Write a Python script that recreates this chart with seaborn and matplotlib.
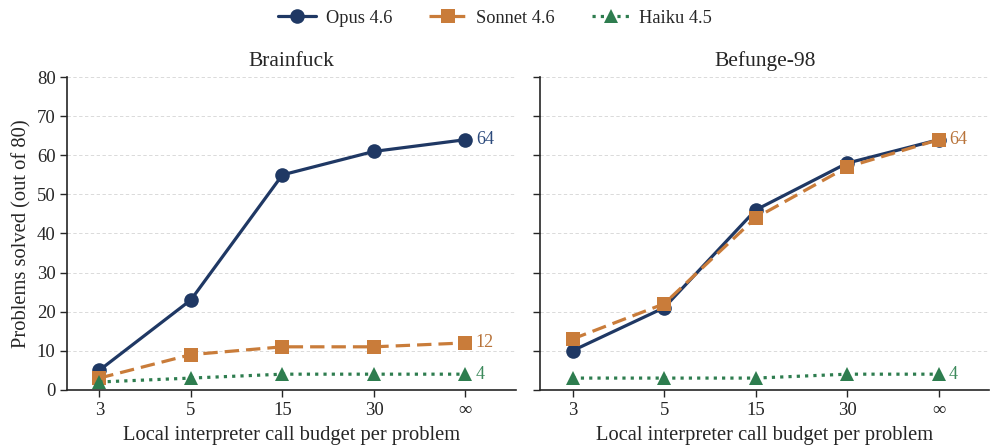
import pandas as pd
import matplotlib.pyplot as plt
import seaborn as sns

# Data
budgets = ['3', '5', '15', '30', '∞']
models = ['Opus 4.6', 'Sonnet 4.6', 'Haiku 4.5']
panels = ['Brainfuck', 'Befunge-98']

bf_opus = [5, 23, 55, 61, 64]
bf_sonnet = [3, 9, 11, 11, 12]
bf_haiku = [2, 3, 4, 4, 4]

bg_opus = [10, 21, 46, 58, 64]
bg_sonnet = [13, 22, 44, 57, 64]
bg_haiku = [3, 3, 3, 4, 4]

colors = {'Opus 4.6': '#1f3864', 'Sonnet 4.6': '#c97c3a', 'Haiku 4.5': '#2e7d4f'}
label_colors = {'Opus 4.6': '#2c4a7c', 'Sonnet 4.6': '#b8733a', 'Haiku 4.5': '#3d8a5c'}
markers = {'Opus 4.6': 'o', 'Sonnet 4.6': 's', 'Haiku 4.5': '^'}
dashes = {'Opus 4.6': '', 'Sonnet 4.6': (4.5, 2.2), 'Haiku 4.5': (1, 1.6)}

rows = []
for panel, vals in zip(panels, [[bf_opus, bf_sonnet, bf_haiku], [bg_opus, bg_sonnet, bg_haiku]]):
    for m, v in zip(models, vals):
        for i, (b, y) in enumerate(zip(budgets, v)):
            rows.append({'panel': panel, 'model': m, 'pos': i, 'budget': b, 'solved': y})
df = pd.DataFrame(rows)

sns.set_style('ticks')
plt.rcParams['font.family'] = ['Liberation Serif', 'DejaVu Serif']

fig, axes = plt.subplots(1, 2, figsize=(9.9, 4.46), dpi=100, sharey=True)
fig.subplots_adjust(left=0.068, right=0.999, top=0.827, bottom=0.126, wspace=0.055)

for ax, panel in zip(axes, panels):
    sub = df[df['panel'] == panel]
    sns.lineplot(data=sub, x='pos', y='solved', hue='model', style='model',
                 palette=colors, markers=markers, dashes=dashes,
                 hue_order=models, style_order=models,
                 linewidth=2.3, markersize=10.5, markeredgewidth=0,
                 ax=ax, legend=(panel == panels[0]))
    # end-of-line value labels; when two series end on the same value only the later one shows
    ends = sub[sub['pos'] == len(budgets) - 1].set_index('model')['solved']
    for k, m in enumerate(models):
        if any(ends[o] == ends[m] for o in models[k + 1:]):
            continue
        ax.annotate(str(ends[m]), (len(budgets) - 1, ends[m]), xytext=(7.5, 0),
                    textcoords='offset points', va='center', ha='left',
                    fontsize=13, color=label_colors[m])
    ax.set_title(panel, fontsize=15.5, pad=8)
    ax.set_xticks(range(len(budgets)))
    ax.set_xticklabels(budgets)
    ax.set_xlim(-0.35, 4.55)
    ax.set_ylim(0, 80)
    ax.set_yticks(range(0, 81, 10))
    ax.set_xlabel('Local interpreter call budget per problem', fontsize=14.8, labelpad=5)
    ax.grid(axis='y', linestyle=(0, (4, 3)), color='#d4d4d4', linewidth=0.6)
    ax.tick_params(labelsize=13.5, direction='out', length=5, width=1)
    for s in ['left', 'bottom']:
        ax.spines[s].set_linewidth(1.2)
    sns.despine(ax=ax)

axes[0].set_ylabel('Problems solved (out of 80)', fontsize=14.8)
axes[1].tick_params(labelleft=False)

handles, labels = axes[0].get_legend_handles_labels()
axes[0].get_legend().remove()
fig.legend(handles, labels, loc='upper center', ncol=3, frameon=False,
           fontsize=13.2, bbox_to_anchor=(0.5, 1.015), handlelength=2.1,
           handletextpad=0.5, columnspacing=2.0)

plt.savefig('out.png', dpi=100)
